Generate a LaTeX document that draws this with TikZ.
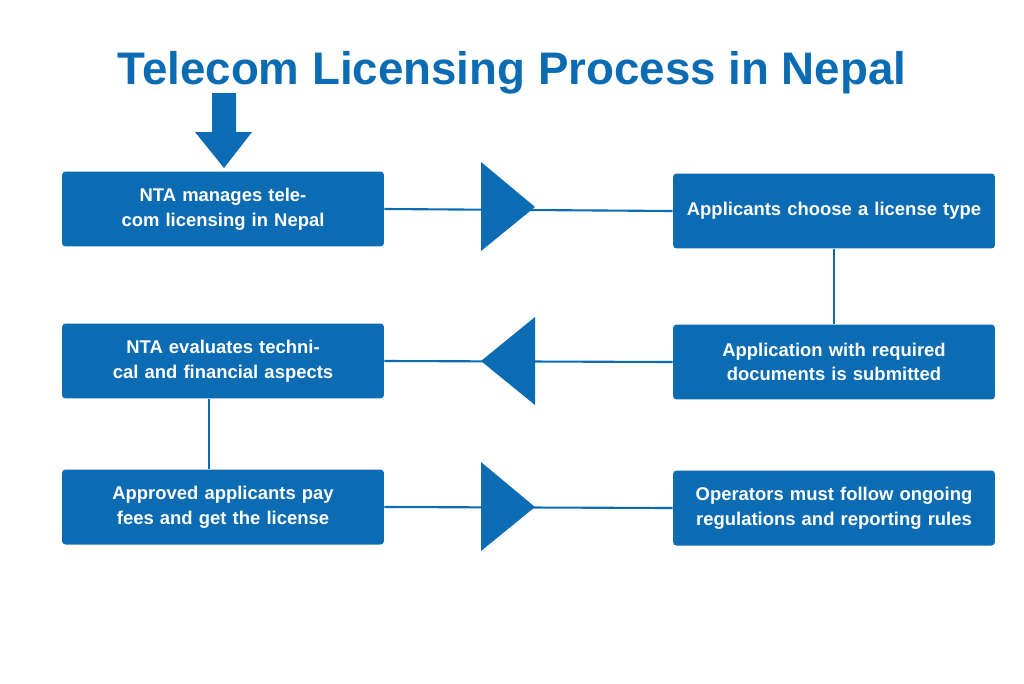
\documentclass[tikz,border=0pt]{standalone}
\usepackage{fontspec}
\setmainfont{Liberation Sans}
\usetikzlibrary{positioning}
\definecolor{ntablue}{HTML}{0B6BB3}
\tikzset{
  stepbox/.style={fill=ntablue, rounded corners=2pt, minimum width=6.44cm, minimum height=1.5cm,
    text width=6.1cm, align=center, text=white, font=\fontsize{10.5}{14}\selectfont\bfseries},
  link/.style={draw=ntablue, line width=1.2pt},
  tri/.style={fill=ntablue}
}
\begin{document}
\begin{tikzpicture}[x=0.02cm,y=-0.02cm]
	\useasboundingbox (0,0) rectangle (1024,683);
	
	% title
	\node (title) at (512,73) {\fontsize{26}{30}\selectfont\bfseries\color{ntablue}Telecom Licensing Process in Nepal};
	\fill [ntablue] (212,93) -- (236,93) -- (236,132) -- (252,132) -- (224,168) -- (195,132) -- (212,132) -- cycle;
	
	% boxes
	\node [stepbox] (nta) at (223,209) {NTA manages telecom licensing in Nepal};
	\node [stepbox] (choose) at (834,211) {Applicants choose a license type};
	\node [stepbox] (submit) at (834,362) {Application with required documents is submitted};
	\node [stepbox] (eval) at (223,361) {NTA evaluates technical and financial aspects};
	\node [stepbox] (pay) at (223,507) {Approved applicants pay fees and get the license};
	\node [stepbox] (rules) at (834,508) {Operators must follow ongoing regulations and reporting rules};
	
	% connectors
	\draw [link] (nta.east) -- (choose.west);
	\draw [link] (choose.south) -- (submit.north);
	\draw [link] (submit.west) -- (eval.east);
	\draw [link] ([xshift=-0.28cm]eval.south) -- ([xshift=-0.28cm]pay.north);
	\draw [link] (pay.east) -- (rules.west);
	
	% triangles
	\fill [tri] (481,162) -- (535,207) -- (481,251) -- cycle;
	\fill [tri] (535,317) -- (481,361) -- (535,405) -- cycle;
	\fill [tri] (481,462) -- (535,507) -- (481,551) -- cycle;
	
\end{tikzpicture}
\end{document}
